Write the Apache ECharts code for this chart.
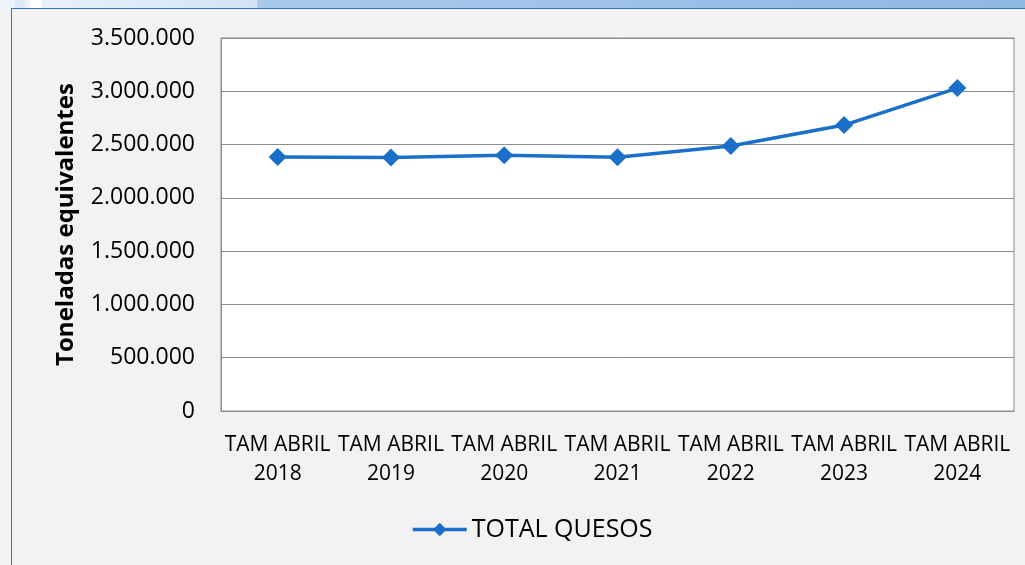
<!DOCTYPE html>
<html>
<head>
<meta charset="utf-8">
<script src="https://cdn.jsdelivr.net/npm/echarts@6/dist/echarts.min.js"></script>
<style>
  html, body { margin: 0; padding: 0; background: #f2f2f2; }
  #chart { width: 1025px; height: 565px; }
</style>
</head>
<body>
<div id="chart"></div>
<script>
// datos
var categorias = ['TAM ABRIL\n2018', 'TAM ABRIL\n2019', 'TAM ABRIL\n2020', 'TAM ABRIL\n2021', 'TAM ABRIL\n2022', 'TAM ABRIL\n2023', 'TAM ABRIL\n2024'];
var totalQuesos = [2383000, 2378000, 2400000, 2380000, 2486000, 2683000, 3030000];
var serieNombre = 'TOTAL QUESOS';
var ejeNombre = 'Toneladas equivalentes';

var chart = echarts.init(document.getElementById('chart'));

option = {
    backgroundColor: '#f2f2f2',
    textStyle: { fontFamily: 'Open Sans' },
    graphic: [
        // franja superior
        { type: 'rect', shape: { x: 0, y: 0, width: 1025, height: 8 },
          style: { fill: new echarts.graphic.LinearGradient(0, 0, 1, 0, [
              { offset: 0, color: '#eef4fb' },
              { offset: 0.25, color: '#d2e3f4' },
              { offset: 0.252, color: '#a9c9ea' },
              { offset: 1, color: '#8fb8e3' }
          ]) }, silent: true },
        { type: 'rect', shape: { x: 15, y: 0, width: 10, height: 8 }, style: { fill: '#dfe9f5' }, silent: true },
        { type: 'rect', shape: { x: 30, y: 0, width: 12, height: 8 }, style: { fill: '#ffffff' }, silent: true },
        // borde azul
        { type: 'line', shape: { x1: 11, y1: 8.5, x2: 1025, y2: 8.5 }, style: { stroke: '#2e75c6', lineWidth: 1 }, silent: true },
        { type: 'line', shape: { x1: 11.5, y1: 8, x2: 11.5, y2: 565 }, style: { stroke: '#2e75c6', lineWidth: 1 }, silent: true }
    ],
    grid: {
        left: 221,
        right: 11,
        top: 38,
        bottom: 154,
        show: true,
        backgroundColor: '#ffffff',
        borderColor: '#8c8c8c',
        borderWidth: 1
    },
    legend: {
        data: [serieNombre],
        left: 406,
        top: 512,
        itemWidth: 54,
        itemHeight: 17,
        itemGap: 5,
        lineStyle: { width: 3.5 },
        textStyle: { fontSize: 25, color: '#000', fontFamily: 'Open Sans' }
    },
    xAxis: {
        type: 'category',
        data: categorias,
        boundaryGap: true,
        axisLine: { show: true, lineStyle: { color: '#8c8c8c' } },
        axisTick: { show: false },
        axisLabel: {
            interval: 0,
            margin: 20,
            fontSize: 21,
            lineHeight: 29,
            color: '#000'
        }
    },
    yAxis: {
        type: 'value',
        min: 0,
        max: 3500000,
        interval: 500000,
        name: ejeNombre,
        nameLocation: 'middle',
        nameGap: 143,
        nameTextStyle: { fontSize: 24, fontWeight: 'bold', color: '#000' },
        axisLine: { show: true, lineStyle: { color: '#8c8c8c' } },
        axisTick: { show: false },
        splitLine: { show: true, lineStyle: { color: '#8c8c8c', width: 1 } },
        axisLabel: {
            margin: 26,
            fontSize: 23,
            color: '#000',
            formatter: function (v) {
                return v.toString().replace(/\B(?=(\d{3})+(?!\d))/g, '.');
            }
        }
    },
    series: [
        {
            name: serieNombre,
            type: 'line',
            data: totalQuesos,
            symbol: 'diamond',
            symbolSize: 18,
            lineStyle: { color: '#1a6fc8', width: 3.5 },
            itemStyle: { color: '#1a6fc8' },
            animation: false
        }
    ]
};
chart.setOption(option);
</script>
</body>
</html>
